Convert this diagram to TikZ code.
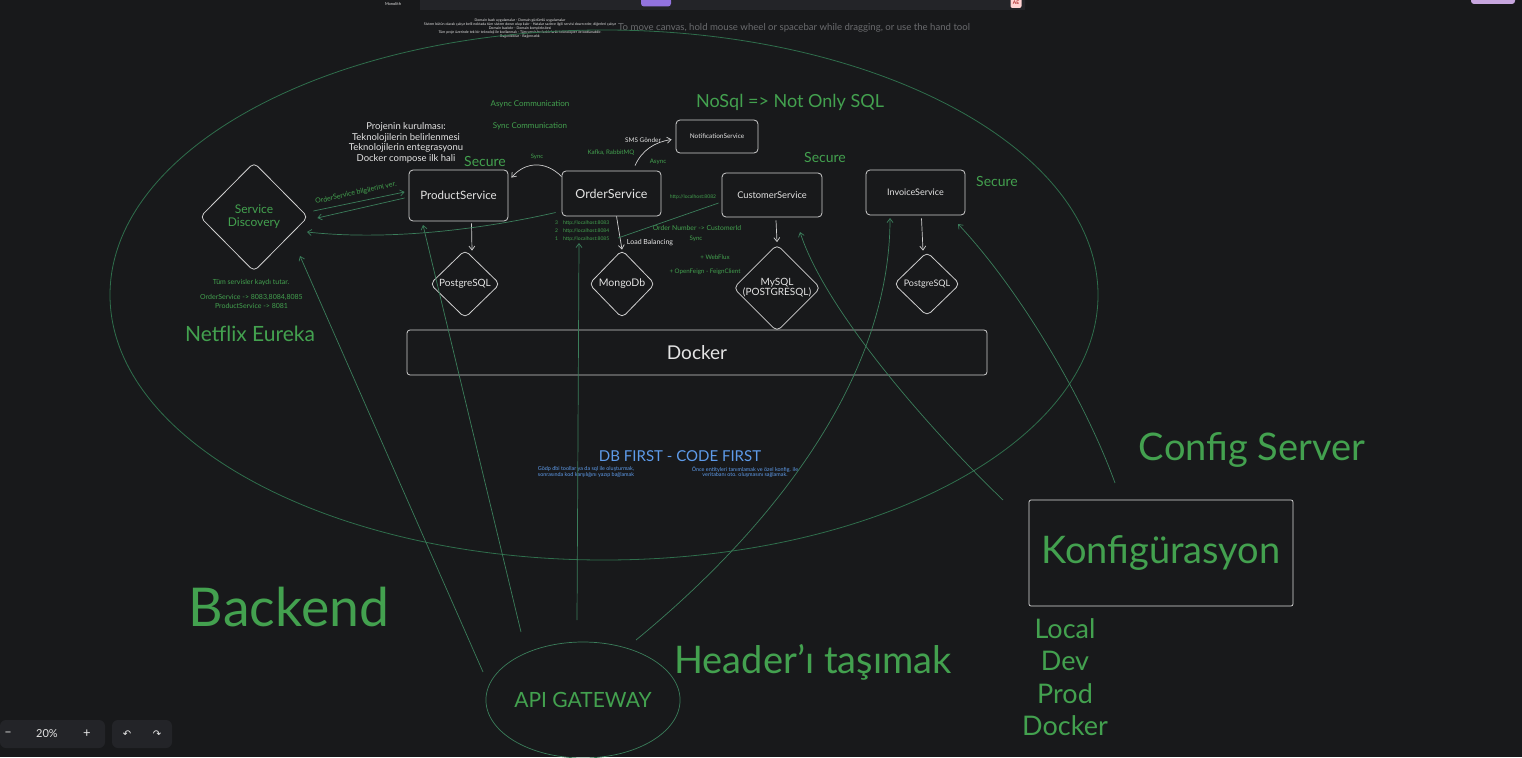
\documentclass[tikz,border=0pt]{standalone}
\usepackage{fontspec}
\setmainfont{Lato}
\newfontfamily\symf{DejaVu Sans}
\usetikzlibrary{shapes.geometric,arrows.meta}
\definecolor{bg}{HTML}{18191B}
\definecolor{gtxt}{HTML}{43A14F}
\definecolor{gline}{HTML}{3B7E5B}
\definecolor{ell}{HTML}{2F6E4C}
\definecolor{wbox}{HTML}{CFCFCF}
\definecolor{wtxt}{HTML}{E4E4E4}
\definecolor{btxt}{HTML}{5E9BEA}
\definecolor{ui}{HTML}{232428}
\definecolor{hint}{HTML}{6A6B6E}
\tikzset{
  fs/.style={font=\fontsize{#1}{#1}\selectfont},
  svc/.style={draw=wbox, line width=0.8pt, rounded corners=4pt, text=wtxt, inner sep=0pt},
  dbn/.style={diamond, draw=wbox, line width=0.8pt, rounded corners=5pt, text=wtxt, inner sep=0pt, aspect=1},
  gt/.style={text=gtxt, align=center, inner sep=0pt},
  wt/.style={text=wtxt, align=center, inner sep=0pt},
  bt/.style={text=btxt, align=center, inner sep=0pt},
  arr/.style={draw=wbox, line width=0.7pt, -{Straight Barb[length=4pt,width=6pt]}},
  garr/.style={draw=gline, line width=0.7pt, -{Straight Barb[length=4pt,width=6pt]}},
  gln/.style={draw=gline, line width=0.7pt},
}
\begin{document}
\begin{tikzpicture}[x=1pt,y=-1pt]
\fill[bg] (0,0) rectangle (1522,757);
\useasboundingbox (0,0) rectangle (1522,757);

% UI chrome
\fill[ui] (420,-4) rectangle (1025,10);
\fill[ui, rounded corners=3pt] (1005,-4) rectangle (1025,10);
\fill[ui, rounded corners=6pt] (0,720) rectangle (105,748);
\fill[ui, rounded corners=6pt] (112,720) rectangle (172,748);
\node[fill=violet!45!blue!55, rounded corners=3pt, minimum width=30pt, minimum height=9pt, inner sep=0pt] (tb) at (656,2) {};
\node[fill=pink!70, rounded corners=2pt, minimum width=11pt, minimum height=10pt, inner sep=0pt, text=red!60!black, fs=5] (ae) at (1016,3) {AE};
\node[fill=blue!25!violet!35!white, rounded corners=3pt, minimum width=44pt, minimum height=8pt, inner sep=0pt] (tr) at (1493,0) {};
\node[wt, fs=12, text=wtxt!80] (zm) at (8,734) {−};
\node[wt, fs=11] (zp) at (47,734) {20\%};
\node[wt, fs=13, text=wtxt!80] (zpl) at (87,734) {+};
\node[wt, fs=10, text=wtxt!70] (undo) at (127,734) {\symf ↶};
\node[wt, fs=10, text=wtxt!70] (redo) at (157,734) {\symf ↷};
\node[anchor=west, text=hint, fs=9.6, inner sep=0pt] (hinttext) at (618,28) {To move canvas, hold mouse wheel or spacebar while dragging, or use the hand tool};

% top notes
\node[wt, fs=4] (mono) at (393,4) {Monolith};
\node[wt, fs=3.6] (notes) at (520,29) {Domain bazlı uygulamalar - Domain güdümlü uygulamalar\\[0.4pt]
Sistem bütün olarak çalışır belli noktada tüm sistem down olup kalır - Hatalar sadece ilgili servisi down eder, diğerleri çalışır\\[0.4pt]
Domain bazlıdır - Domain kompleksitesi\\[0.4pt]
Tüm proje üzerinde tek bir teknoloji ile kodlanmalı - Tüm servisler farklı farklı teknolojiler ile kodlanabilir.\\[0.4pt]
Bağımlılıklar - Bağımsızlık};

% big ellipse
\node[ellipse, draw=ell, line width=0.8pt, minimum width=988pt, minimum height=530pt, inner sep=0pt] (backend) at (604,295) {};

% services
\node[svc, minimum width=99pt, minimum height=51pt, fs=11.5] (product) at (458.5,195.5) {ProductService};
\node[svc, minimum width=99pt, minimum height=45pt, fs=12.5] (order) at (611.5,193.5) {OrderService};
\node[svc, minimum width=82pt, minimum height=33pt, fs=6.5] (notif) at (717,136.5) {NotificationService};
\node[svc, minimum width=100pt, minimum height=44pt, fs=9.3] (customer) at (772,195) {CustomerService};
\node[svc, minimum width=99pt, minimum height=45pt, fs=9] (invoice) at (915.5,192.5) {InvoiceService};

% databases
\node[dbn, minimum width=70pt, minimum height=68pt, fs=10] (pg1) at (465,284) {PostgreSQL};
\node[dbn, minimum width=66pt, minimum height=68pt, fs=10.5] (mongo) at (622,284) {MongoDb};
\node[dbn, minimum width=82pt, minimum height=76pt, fs=10, align=center] (mysql) at (777,288) {MySQL\\(POSTGRESQL)};
\node[dbn, minimum width=66pt, minimum height=64pt, fs=9] (pg2) at (927,284) {PostgreSQL};

% service discovery
\node[dbn, minimum width=108pt, minimum height=109pt, text=gtxt, align=center, fs=12] (sd) at (254,217) {Service\\[1pt]Discovery};

% docker
\node[svc, minimum width=580pt, minimum height=45pt, fs=19, rounded corners=3pt] (docker) at (697,352.5) {Docker};

% konfig
\node[draw=wbox!70, line width=0.7pt, rounded corners=2pt, minimum width=264pt, minimum height=106pt, text=gtxt, fs=38, inner sep=0pt] (konf) at (1161,553) {Konfigürasyon};

% api gateway
\node[ellipse, draw=gline, line width=0.7pt, minimum width=188pt, minimum height=116pt, inner sep=0pt, text=gtxt, fs=21] (api) at (583,700) {API GATEWAY};

% green labels
\node[gt, fs=53.5] (lbackend) at (289,607) {Backend};
\node[gt, fs=38] (lconfig) at (1252,450) {Config Server};
\node[gt, fs=38] (lheader) at (813,662) {Header'ı taşımak};
\node[gt, fs=27] (lenv) at (1065,677) {Local\\[5.5pt]Dev\\[5.5pt]Prod\\[5.5pt]Docker};
\node[gt, fs=21] (leureka) at (250,334) {Netflix Eureka};
\node[gt, fs=7] (ltum) at (251,283) {Tüm servisler kaydı tutar.};
\node[gt, fs=7] (lports) at (251.5,301.5) {OrderService -> 8083,8084,8085\\[1.5pt]ProductService -> 8081};
\node[gt, fs=18] (lnosql) at (790,102) {NoSql => Not Only SQL};
\node[gt, fs=8] (lasync) at (530,104) {Async Communication};
\node[gt, fs=8] (lsync) at (530,126) {Sync Communication};
\node[gt, fs=14] (sec1) at (485,161) {Secure};
\node[gt, fs=14] (sec2) at (825,157) {Secure};
\node[gt, fs=14] (sec3) at (997,181) {Secure};
\node[wt, fs=9.5] (proj) at (406,143) {Projenin kurulması:\\[1pt]Teknolojilerin belirlenmesi\\[1pt]Teknolojilerin entegrasyonu\\[1pt]Docker compose ilk hali};
\node[gt, fs=7, rotate=12.5] (lorderinfo) at (356,193) {OrderService bilgilerini ver.};
\node[gt, fs=6] (lsyncarrow) at (537,157) {Sync};
\node[wt, fs=6.4] (lsms) at (643,140) {SMS Gönder};
\node[gt, fs=6.2] (lkafka) at (611,153) {Kafka, RabbitMQ};
\node[gt, fs=6.2] (lasync2) at (658,162) {Async};
\node[gt, fs=5] (l8082) at (693,197) {http://localhost:8082};
\node[gt, fs=5, anchor=west] (l3) at (555,223) {3\hspace{5pt}http://localhost:8083};
\node[gt, fs=5, anchor=west] (l2) at (555,231) {2\hspace{5pt}http://localhost:8084};
\node[gt, fs=5, anchor=west] (l1) at (555,239) {1\hspace{5pt}http://localhost:8085};
\node[wt, fs=7, text=wtxt!85] (llb) at (650,243) {Load Balancing};
\node[gt, fs=6.8] (lordnum) at (697,228) {Order Number -> CustomerId};
\node[gt, fs=6.2] (lsync3) at (696,239) {Sync};
\node[gt, fs=6.2] (lwebflux) at (715,257) {+ WebFlux};
\node[gt, fs=6.2] (lfeign) at (705,272) {+ OpenFeign - FeignClient};
\node[bt, fs=15] (ldb) at (680,456) {DB FIRST - CODE FIRST};
\node[bt, fs=5.4] (ldbl) at (586,472) {Gödp dbi toollar ya da sql ile oluşturmak,\\sonrasında kod karşılığını yazıp bağlamak};
\node[bt, fs=5.4] (ldbr) at (745,472) {Önce entityleri tanımlamak ve özel konfig. ile\\veritabanı oto. oluşmasını sağlamak.};

% free ends
\coordinate (a1) at (483,672);
\coordinate (b1) at (521,632);
\coordinate (c2) at (577,620);
\coordinate (d1) at (636,640);
\coordinate (e1) at (1003,500);
\coordinate (f1) at (1115,483);
\coordinate (lbend) at (618,238);

% connectors
\draw[arr] ([xshift=13pt,yshift=-2pt]product.south) -- ([xshift=7pt,yshift=-1pt]pg1.north);
\draw[arr] ([xshift=5pt]order.south) -- (mongo.north);
\draw[arr] ([xshift=4pt,yshift=-3pt]customer.south) -- ([yshift=2pt]mysql.north);
\draw[arr] ([xshift=6pt,yshift=-3pt]invoice.south) -- ([xshift=-4pt,yshift=1pt]pg2.north);

\draw[arr] ([yshift=-6pt]order.north west) .. controls (545,160) and (525,162) .. ([xshift=3pt,yshift=-8pt]product.north east);
\draw[arr] ([xshift=23.5pt,yshift=5pt]order.north) .. controls (642,150) and (655,142) .. ([xshift=-4pt,yshift=-3pt]notif.west);
\draw[gln] (lbend) -- ([xshift=-3pt,yshift=-8pt]customer.west);

\draw[garr] ([xshift=5pt,yshift=6pt]sd.east) -- ([xshift=-4pt,yshift=3.5pt]product.west);
\draw[garr] ([xshift=-4pt,yshift=-2.5pt]product.west) -- ([xshift=9pt,yshift=-1pt]sd.east);
\draw[garr] ([xshift=-6pt,yshift=-19pt]order.west) .. controls (470,232) and (380,240) .. ([shift={(53,15)}]sd.center);

\draw[garr] (a1) -- ([shift={(46,39)}]sd.center);
\draw[garr] (b1) -- ([shift={(-35.5,29.5)}]product.center);
\draw[garr] (c2) -- ([shift={(-32.5,49.5)}]order.center);
\draw[garr] (d1) .. controls (770,530) and (890,380) .. ([shift={(-25.5,25.5)}]invoice.center);
\draw[garr] (e1) .. controls (930,430) and (825,310) .. ([shift={(28,37)}]customer.center);
\draw[garr] (f1) .. controls (1085,400) and (1020,290) .. ([shift={(42.5,31.5)}]invoice.center);
\end{tikzpicture}
\end{document}
